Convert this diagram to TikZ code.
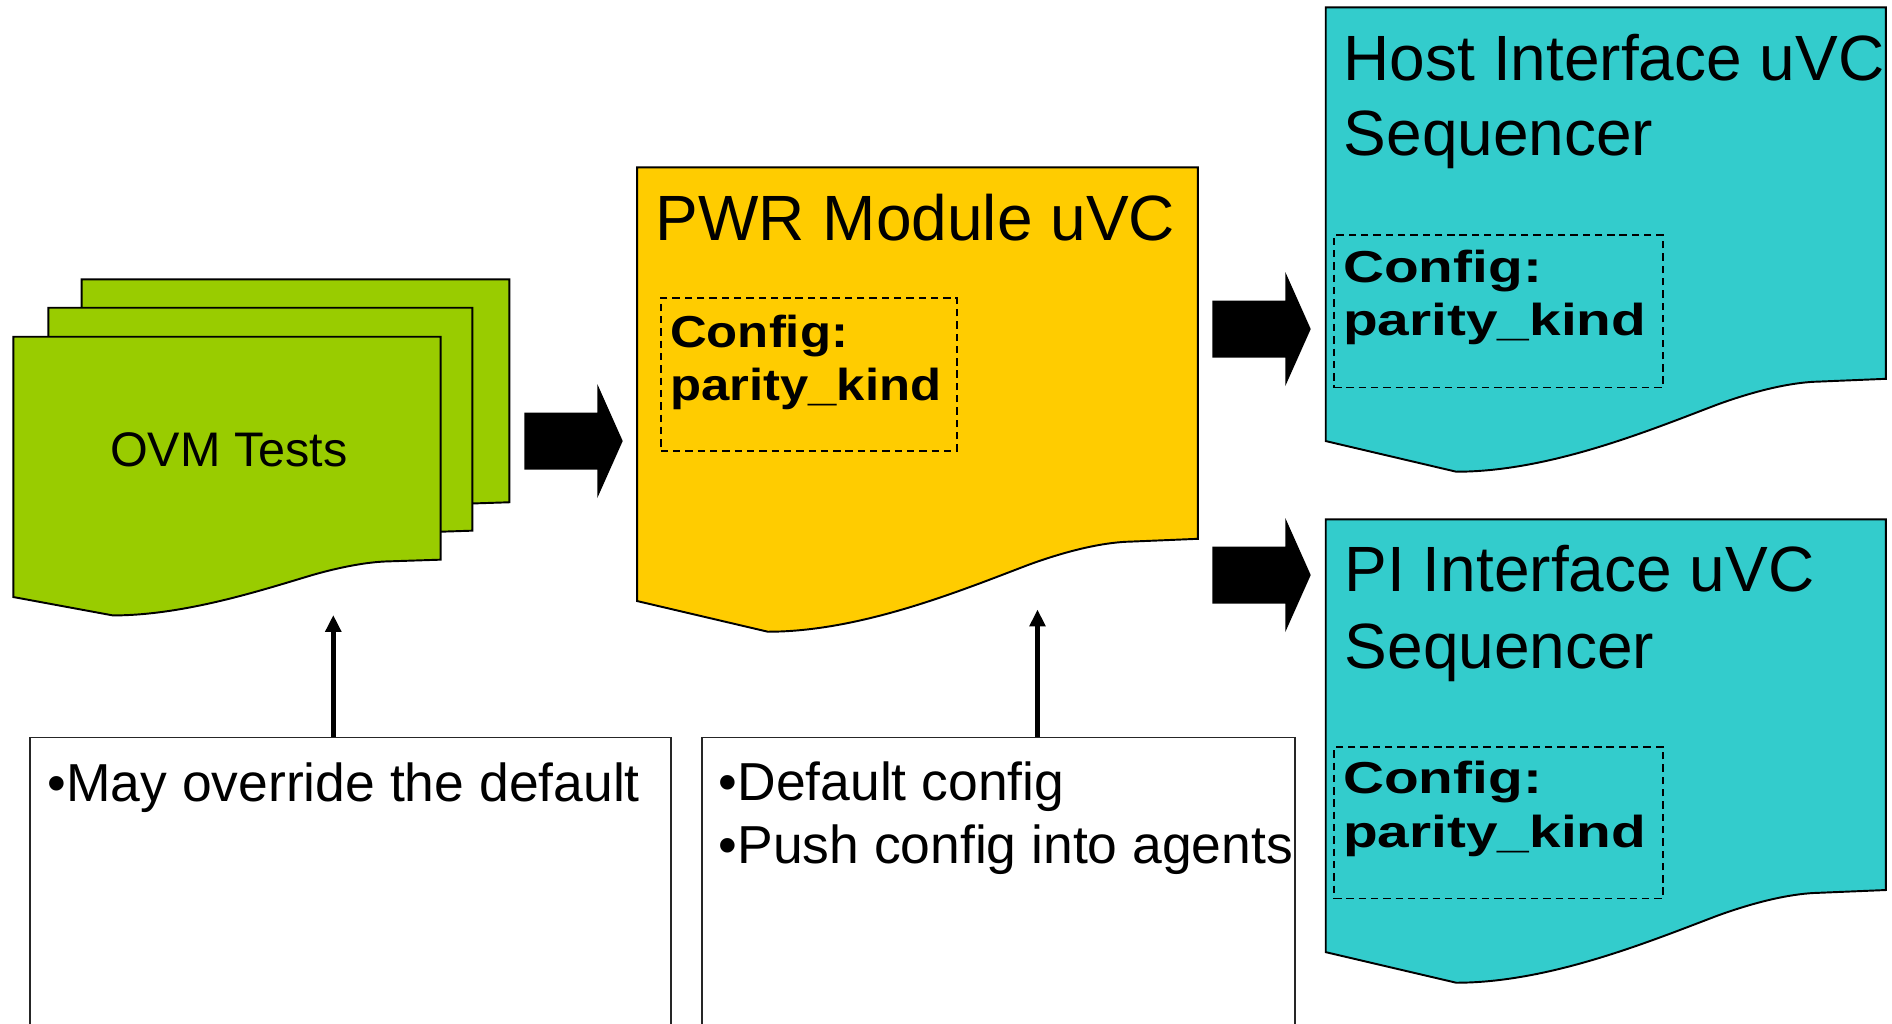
\documentclass[tikz,border=0pt]{standalone}
\usepackage{fontspec}
\setmainfont{Liberation Sans}
\newfontfamily\cfgwide[FakeStretch=1.136]{Liberation Sans}
\newfontfamily\cfgwider[FakeStretch=1.27]{Liberation Sans}
\usetikzlibrary{arrows.meta}

\definecolor{testgreen}{HTML}{99CC00}
\definecolor{pwryellow}{HTML}{FFCC00}
\definecolor{seqteal}{HTML}{33CCCC}

% Flow-chart "document" sheet: left x, top y, width, full height, fill colour
\newcommand\docsheet[5]{%
  \filldraw[sheetline, fill=#5, shift={(#1,#2)}, xscale=#3, yscale=#4]
    (0,0) -- (1,0) -- (1,0.80) -- (0.88,0.806)
    .. controls (0.84,0.807) and (0.78,0.82) .. (0.70,0.855)
    .. controls (0.58,0.91) and (0.40,1.0) .. (0.233,1.0)
    -- (0,0.934) -- cycle;}

\tikzset{
  x=0.01cm, y=-0.01cm,
  sheetline/.style={draw=black, line width=0.55pt},
  titletext/.style={inner sep=0pt, anchor=base west, font=\fontsize{18.2}{21}\selectfont},
  ovmtext/.style={inner sep=0pt, anchor=base west, font=\fontsize{13.8}{16}\selectfont},
  cfgtextA/.style={inner sep=0pt, anchor=base west, font=\cfgwide\bfseries\fontsize{12.72}{15}\selectfont},
  cfgtextB/.style={inner sep=0pt, anchor=base west, font=\cfgwider\bfseries\fontsize{12.72}{15}\selectfont},
  cfgbox/.style={draw=black, line width=0.45pt, dash pattern=on 2.1pt off 1.4pt,
    inner sep=0pt, anchor=north west},
  notebox/.style={draw=black!85, line width=0.5pt, inner sep=0pt, anchor=north west},
  notetext/.style={inner sep=0pt, anchor=base west, font=\fontsize{15.2}{18}\selectfont},
  uparrow/.style={line width=1.4pt, -{Triangle[width=4.4pt, length=4.8pt]}},
  pics/blockarrow/.style={code={
    \fill[black] (0,-28.5) -- (73,-28.5) -- (73,-57) -- (98.4,0)
      -- (73,57) -- (73,28.5) -- (0,28.5) -- cycle;}}
}

\begin{document}
\begin{tikzpicture}
\useasboundingbox (0,0) rectangle (1892,1023);
\clip (0,0) rectangle (1892,1023);

% stack of test sheets
\docsheet{81.7}{279.3}{427.6}{278.7}{testgreen}
\docsheet{48.3}{307.7}{424}{278.7}{testgreen}
\docsheet{13.3}{336.7}{427.4}{278.7}{testgreen}
\node[ovmtext] (ovm) at (109.4,466.7) {OVM Tests};

% power module component
\docsheet{637.2}{167.3}{560.7}{464.4}{pwryellow}
\node[titletext] (pwrtitle) at (655,240) {PWR Module uVC};
\node[cfgbox, minimum width=2.96cm, minimum height=1.527cm] (pwrcfg) at (660,297.3) {};
\node[cfgtextA] (pwrcfg1) at (669.5,347.3) {Config:};
\node[cfgtextA] (pwrcfg2) at (669.5,400) {parity\_kind};

% host interface sequencer
\docsheet{1325.7}{7.3}{560.2}{464.4}{seqteal}
\node[titletext] (hostl1) at (1343,80) {Host Interface uVC};
\node[titletext] (hostl2) at (1343,155) {Sequencer};
\node[cfgbox, minimum width=3.284cm, minimum height=1.524cm] (hostcfg) at (1333.3,234.3) {};
\node[cfgtextB] (hostcfg1) at (1342.5,282.3) {Config:};
\node[cfgtextB] (hostcfg2) at (1342.5,335) {parity\_kind};

% PI interface sequencer
\docsheet{1325.7}{519.3}{560.2}{463.4}{seqteal}
\node[titletext] (pil1) at (1344,591.7) {PI Interface uVC};
\node[titletext] (pil2) at (1344,668.3) {Sequencer};
\node[cfgbox, minimum width=3.284cm, minimum height=1.517cm] (picfg) at (1333.3,746) {};
\node[cfgtextB] (picfg1) at (1342.5,793.3) {Config:};
\node[cfgtextB] (picfg2) at (1342.5,847.7) {parity\_kind};

% block arrows between stages
\pic (arrowA) at (524.3,441) {blockarrow};
\pic (arrowB) at (1212.3,329) {blockarrow};
\pic (arrowC) at (1212.3,575) {blockarrow};

% note boxes
\node[notebox, minimum width=6.406cm, minimum height=4cm] (leftnote) at (29,736.7) {};
\node[notetext] (leftnote1) at (47,801) {•May override the default};
\node[notebox, minimum width=5.926cm, minimum height=4cm] (midnote) at (701.4,736.7) {};
\node[notetext] (midnote1) at (718,800) {•Default config};
\node[notetext] (midnote2) at (718,863.5) {•Push config into agents};

% arrows from notes up to the components
\coordinate (tipL) at (333.3,615);
\coordinate (tipM) at (1037.5,609.5);
\draw[uparrow] (tipL |- leftnote.north) -- (tipL);
\draw[uparrow] (tipM |- midnote.north) -- (tipM);
\end{tikzpicture}
\end{document}
